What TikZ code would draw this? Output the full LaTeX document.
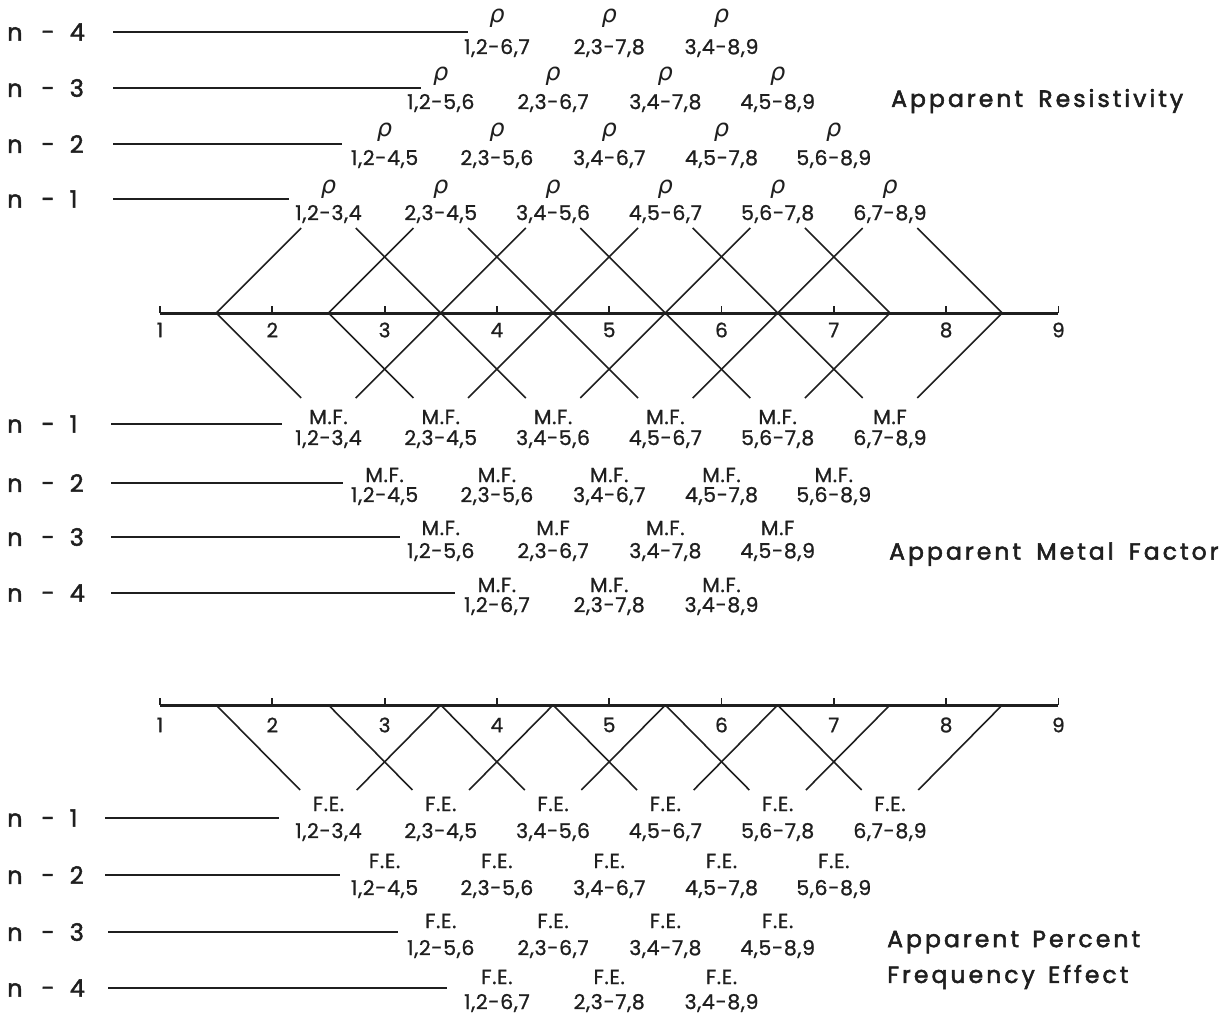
\documentclass[tikz,border=0pt]{standalone}
\usepackage{fontspec}
\setmainfont{Poppins}
\newfontfamily\lblfont[LetterSpace=3,FakeBold=1]{Poppins}
\newfontfamily\rowfont[LetterSpace=2,FakeBold=1.8]{Poppins}
\newfontfamily\ttlfont[LetterSpace=13,FakeBold=2.2]{Poppins}
\newfontfamily\rhofont{DejaVu Sans}
\begin{document}
\begin{tikzpicture}[x=1pt,y=-1pt,
  declare function={ex(\k)=160+112.3*(\k-1);},
  thinl/.style={line width=1.6pt, black!88},
  axisl/.style={line width=3pt, black!88},
  tickl/.style={line width=1.8pt, black!88},
  num/.style={font=\lblfont\fontsize{20.5}{22}\selectfont, inner sep=0pt, text=black!88},
  tag/.style={font=\lblfont\fontsize{20.5}{22}\selectfont, inner sep=0pt, text=black!88},
  rhol/.style={font=\rhofont\itshape\fontsize{24}{26}\selectfont, inner sep=0pt, text=black!88},
  rowlbl/.style={font=\rowfont\fontsize{24}{26}\selectfont, inner sep=0pt, anchor=west, text=black!88},
  ttl/.style={font=\ttlfont\fontsize{23.5}{25}\selectfont, inner sep=0pt, anchor=west, text=black!88},
  ticklbl/.style={font=\lblfont\fontsize{20}{22}\selectfont, inner sep=0pt, text=black!88}
]
\useasboundingbox (0,0) rectangle (1232,1020);

% ---------- Upper axis ----------
\coordinate (ua1) at ({ex(1)},313);
\coordinate (ua9) at ({ex(9)},313);
\draw[axisl] (ua1) -- (ua9);
\foreach \k in {1,...,9}{
  \coordinate (ut\k) at ({ex(\k)},313);
  \draw[tickl] (ut\k) -- ++(0,-7);
  \node[ticklbl] (utl\k) at ({ex(\k)},330) {\k};
}
\foreach \j in {1,...,8}{
  \coordinate (um\j) at ({ex(\j+0.5)},313);
}
\foreach \j in {1,...,6}{
  \draw[thinl] (um\j) -- ++(85,-85);
  \draw[thinl] (um\j) -- ++(85,85);
}
\foreach \j in {3,...,8}{
  \draw[thinl] (um\j) -- ++(-85,-85);
  \draw[thinl] (um\j) -- ++(-85,85);
}

% ---------- Lower axis ----------
\coordinate (la1) at ({ex(1)},705);
\coordinate (la9) at ({ex(9)},705);
\draw[axisl] (la1) -- (la9);
\foreach \k in {1,...,9}{
  \coordinate (lt\k) at ({ex(\k)},705);
  \draw[tickl] (lt\k) -- ++(0,-7);
  \node[ticklbl] (ltl\k) at ({ex(\k)},725) {\k};
}
\foreach \j in {1,...,8}{
  \coordinate (lm\j) at ({ex(\j+0.5)},705);
}
\foreach \j in {1,...,6}{
  \draw[thinl] (lm\j) -- ++(84,85);
}
\foreach \j in {3,...,8}{
  \draw[thinl] (lm\j) -- ++(-84,85);
}

% ---------- Resistivity rows ----------
\foreach \n/\ry/\re/\ya/\yb in {1/199/289/189/214, 2/144/342/132/159, 3/88/421/76/103, 4/32/468/18/48}{
  \node[rowlbl] (rr\n) at (7,\ry) {n\hspace{19pt}-\hspace{15pt}\n};
  \coordinate (rs\n) at (113,\ry);
  \coordinate (re\n) at (\re,\ry);
  \draw[thinl] (rs\n) -- (re\n);
  \pgfmathtruncatemacro{\last}{7-\n}
  \foreach \i in {1,...,\last}{
    \pgfmathtruncatemacro{\a}{\i+1}
    \pgfmathtruncatemacro{\b}{\i+\n+1}
    \pgfmathtruncatemacro{\c}{\i+\n+2}
    \node[rhol] (rho\n-\i) at ({ex(\i+1+\n/2)},\ya) {ρ};
    \node[num] (rn\n-\i) at ({ex(\i+1+\n/2)},\yb) {\i,\a-\b,\c};
  }
}
\node[ttl] (ttlR) at (891,101) {Apparent\hspace{6pt} Resistivity};

% ---------- Metal factor rows ----------
\foreach \n/\ry/\re/\ya/\yb in {1/424/282/417/439, 2/483/343/475/496, 3/537/400/528/552, 4/593/455/585/606}{
  \node[rowlbl] (mr\n) at (7,\ry) {n\hspace{19pt}-\hspace{15pt}\n};
  \coordinate (ms\n) at (111,\ry);
  \coordinate (me\n) at (\re,\ry);
  \draw[thinl] (ms\n) -- (me\n);
  \pgfmathtruncatemacro{\last}{7-\n}
  \foreach \i in {1,...,\last}{
    \pgfmathtruncatemacro{\a}{\i+1}
    \pgfmathtruncatemacro{\b}{\i+\n+1}
    \pgfmathtruncatemacro{\c}{\i+\n+2}
    \node[tag] (mf\n-\i) at ({ex(\i+1+\n/2)},\ya)
      {\ifnum\n=1 \ifnum\i=6 M.F\else M.F.\fi
       \else\ifnum\n=3 \ifodd\i M.F.\else M.F\fi\else M.F.\fi\fi};
    \node[num] (mn\n-\i) at ({ex(\i+1+\n/2)},\yb) {\i,\a-\b,\c};
  }
}
\node[ttl] (ttlM) at (889,554) {Apparent\hspace{6pt} Metal\hspace{6pt} Factor};

% ---------- Frequency effect rows ----------
\foreach \n/\ry/\rs/\re/\ya/\yb in {1/818/105/279/804/832, 2/875/105/340/861/889, 3/932/108/398/921/949, 4/988/108/447/977/1003}{
  \node[rowlbl] (fr\n) at (7,\ry) {n\hspace{19pt}-\hspace{15pt}\n};
  \coordinate (fs\n) at (\rs,\ry);
  \coordinate (fe\n) at (\re,\ry);
  \draw[thinl] (fs\n) -- (fe\n);
  \pgfmathtruncatemacro{\last}{7-\n}
  \foreach \i in {1,...,\last}{
    \pgfmathtruncatemacro{\a}{\i+1}
    \pgfmathtruncatemacro{\b}{\i+\n+1}
    \pgfmathtruncatemacro{\c}{\i+\n+2}
    \node[tag] (ft\n-\i) at ({ex(\i+1+\n/2)},\ya) {F.E.};
    \node[num] (fn\n-\i) at ({ex(\i+1+\n/2)},\yb) {\i,\a-\b,\c};
  }
}
\node[ttl] (ttlF1) at (887,942) {Apparent\hspace{4pt} Percent};
\node[ttl] (ttlF2) at (887,977) {Frequency\hspace{4pt} Effect};
\end{tikzpicture}
\end{document}
